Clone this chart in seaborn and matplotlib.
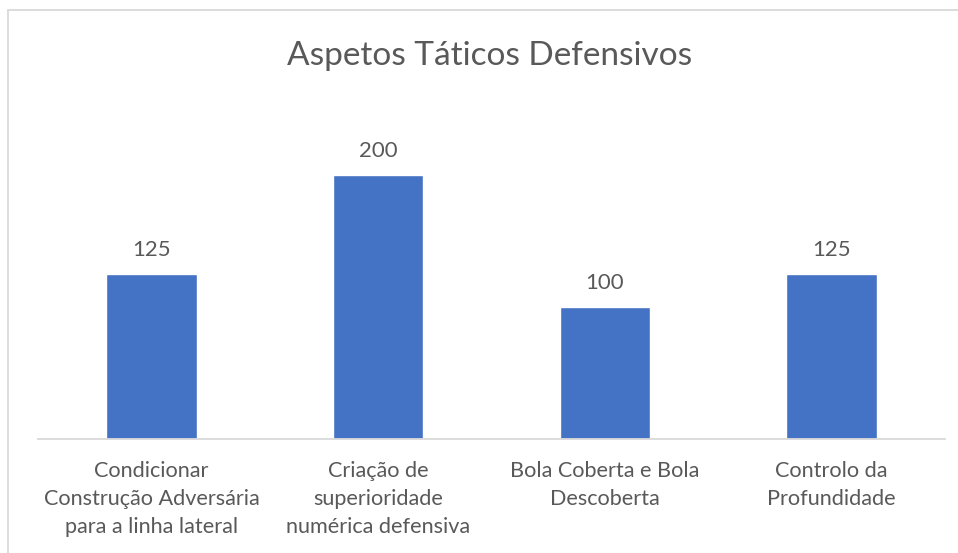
import matplotlib
matplotlib.use("Agg")
import matplotlib.pyplot as plt
import seaborn as sns
import pandas as pd
from matplotlib.lines import Line2D

categories = [
    "Condicionar\nConstrução Adversária\npara a linha lateral",
    "Criação de\nsuperioridade\nnumérica defensiva",
    "Bola Coberta e Bola\nDescoberta",
    "Controlo da\nProfundidade",
]
values = [125, 200, 100, 125]
title = "Aspetos Táticos Defensivos"

sns.set_theme(style="white")
plt.rcParams["font.family"] = ["Lato", "DejaVu Sans"]

text_color = "#595959"
bar_color = "#4472C4"

df = pd.DataFrame({"cat": categories, "val": values})

fig = plt.figure(figsize=(9.58, 5.53), dpi=100)
ax = fig.add_axes([38 / 958, 1 - 439 / 553, (945 - 38) / 958, (439 - 109) / 553])

sns.barplot(data=df, x="cat", y="val", color=bar_color, width=0.4,
            saturation=1, ax=ax)

ax.set_ylim(0, 250)
ax.set_xlim(-0.5, len(categories) - 0.5)
ax.set_xlabel("")
ax.set_ylabel("")
ax.set_yticks([])
for s in ["top", "right", "left"]:
    ax.spines[s].set_visible(False)
ax.spines["bottom"].set_color("#D9D9D9")
ax.spines["bottom"].set_linewidth(1.3)
ax.tick_params(axis="x", length=0, pad=15.5, colors=text_color)
for lbl in ax.get_xticklabels():
    lbl.set_fontsize(15.6)
    lbl.set_linespacing(1.52)
    lbl.set_color(text_color)
    lbl.set_verticalalignment("top")

for container in ax.containers:
    ax.bar_label(container, labels=[str(v) for v in values], padding=10,
                 fontsize=16, color=text_color)

fig.text(490 / 958, 1 - 56 / 553, title, ha="center", va="center",
         fontsize=24, color=text_color)

# chart-area border (top and left visible)
fig.add_artist(Line2D([8 / 958, 8 / 958], [0, 1 - 9.5 / 553],
                      transform=fig.transFigure, color="#D9D9D9", lw=1.3))
fig.add_artist(Line2D([8 / 958, 1], [1 - 9.5 / 553, 1 - 9.5 / 553],
                      transform=fig.transFigure, color="#D9D9D9", lw=1.3))

fig.savefig("out.png", dpi=100, facecolor="white")
